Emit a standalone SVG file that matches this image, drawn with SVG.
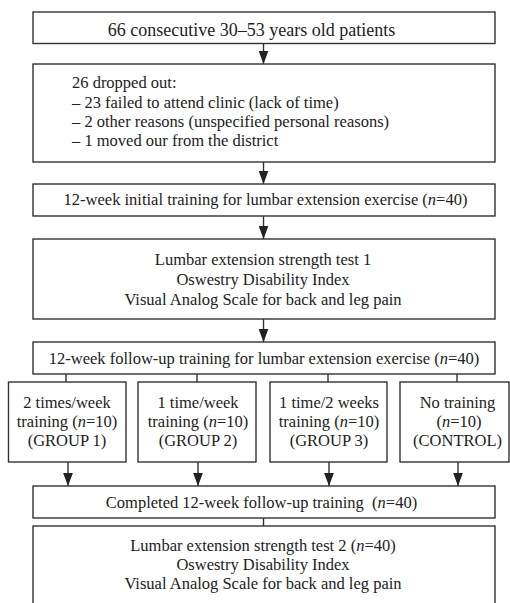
<svg xmlns="http://www.w3.org/2000/svg" width="510" height="603" viewBox="0 0 510 603">
<style>
rect{fill:#fff;stroke:#333;stroke-width:1.4}
text{font-family:"Liberation Serif","Times New Roman",serif;font-size:16.5px;fill:#222}
.c{text-anchor:middle}
.big{font-size:18px}
.con line{stroke:#333;stroke-width:1.4}
</style>
<defs>
<marker id="ah" markerUnits="userSpaceOnUse" markerWidth="13" markerHeight="10" refX="12" refY="4.5" orient="auto" viewBox="0 0 12 9">
<path d="M0,0 L12,4.5 L0,9 Z" fill="#222"/>
</marker>
</defs>
<rect x="0" y="0" width="510" height="603" style="stroke:none"/>
<g class="con">
<line x1="263.5" y1="43.5" x2="263.5" y2="64" marker-end="url(#ah)"/>
<line x1="263.5" y1="162" x2="263.5" y2="184" marker-end="url(#ah)"/>
<line x1="263.5" y1="216" x2="263.5" y2="239" marker-end="url(#ah)"/>
<line x1="263.5" y1="319" x2="263.5" y2="342" marker-end="url(#ah)"/>
<line x1="66" y1="374" x2="66" y2="382"/>
<line x1="197" y1="374" x2="197" y2="382"/>
<line x1="328" y1="374" x2="328" y2="382"/>
<line x1="457" y1="374" x2="457" y2="382"/>
<line x1="68" y1="462" x2="68" y2="486" marker-end="url(#ah)"/>
<line x1="198" y1="462" x2="198" y2="486" marker-end="url(#ah)"/>
<line x1="329" y1="462" x2="329" y2="486" marker-end="url(#ah)"/>
<line x1="458" y1="462" x2="458" y2="486" marker-end="url(#ah)"/>
<line x1="263.5" y1="518" x2="263.5" y2="526"/>
</g>
<g id="n1">
<rect x="33" y="12" width="462" height="31.5"/>
<text class="c big" x="251.5" y="36">66 consecutive 30–53 years old patients</text>
</g>
<g id="n2">
<rect x="33" y="64" width="462" height="98"/>
<text x="72" y="88">26 dropped out:</text>
<text x="72" y="107.5">– 23 failed to attend clinic (lack of time)</text>
<text x="72" y="126.5">– 2 other reasons (unspecified personal reasons)</text>
<text x="72" y="145.5">– 1 moved our from the district</text>
</g>
<g id="n3">
<rect x="33" y="184" width="462" height="32"/>
<text class="c" x="265.5" y="205">12-week initial training for lumbar extension exercise (<tspan font-style="italic">n</tspan>=40)</text>
</g>
<g id="n4">
<rect x="33" y="239" width="462" height="80"/>
<text class="c" x="263" y="264.5">Lumbar extension strength test 1</text>
<text class="c" x="263" y="284.5">Oswestry Disability Index</text>
<text class="c" x="263" y="304.5">Visual Analog Scale for back and leg pain</text>
</g>
<g id="n5">
<rect x="33" y="342" width="462" height="32"/>
<text class="c" x="264" y="364">12-week follow-up training for lumbar extension exercise (<tspan font-style="italic">n</tspan>=40)</text>
</g>
<g id="g1">
<rect x="8.5" y="382" width="117.5" height="80"/>
<text class="c" x="67" y="407.5">2 times/week</text>
<text class="c" x="67" y="426.5">training (<tspan font-style="italic">n</tspan>=10)</text>
<text class="c" x="67" y="445.5">(GROUP 1)</text>
</g>
<g id="g2">
<rect x="138" y="382" width="118" height="80"/>
<text class="c" x="198" y="407.5">1 time/week</text>
<text class="c" x="198" y="426.5">training (<tspan font-style="italic">n</tspan>=10)</text>
<text class="c" x="198" y="445.5">(GROUP 2)</text>
</g>
<g id="g3">
<rect x="270" y="382" width="117" height="80"/>
<text class="c" x="329" y="407.5">1 time/2 weeks</text>
<text class="c" x="329" y="426.5">training (<tspan font-style="italic">n</tspan>=10)</text>
<text class="c" x="329" y="445.5">(GROUP 3)</text>
</g>
<g id="g4">
<rect x="400" y="382" width="109" height="80"/>
<text class="c" x="457.5" y="407.5">No training</text>
<text class="c" x="459" y="426.5">(<tspan font-style="italic">n</tspan>=10)</text>
<text class="c" x="457.5" y="445.5">(CONTROL)</text>
</g>
<g id="n6">
<rect x="33" y="486" width="462" height="32"/>
<text class="c" x="261.5" y="507.5" xml:space="preserve">Completed 12-week follow-up training  (<tspan font-style="italic">n</tspan>=40)</text>
</g>
<g id="n7">
<rect x="33" y="526" width="462" height="100"/>
<text class="c" x="263" y="551">Lumbar extension strength test 2 (<tspan font-style="italic">n</tspan>=40)</text>
<text class="c" x="263" y="570">Oswestry Disability Index</text>
<text class="c" x="263" y="589">Visual Analog Scale for back and leg pain</text>
</g>
</svg>
